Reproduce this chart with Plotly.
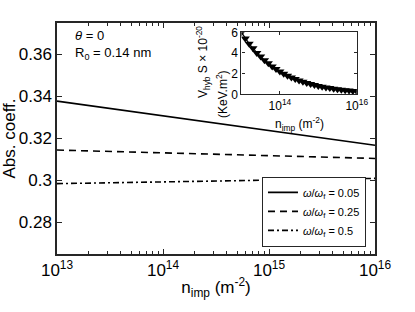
import plotly.graph_objects as go

# Main panel data
n_main = [1e13, 1e14, 1e15, 1e16]
abs_005 = [0.3378, 0.3308, 0.3238, 0.3168]
abs_025 = [0.3145, 0.3132, 0.3118, 0.3105]
abs_05 = [0.2985, 0.2993, 0.3002, 0.3010]

# Inset data
inset_exp = [13.0, 13.1, 13.2, 13.3, 13.4, 13.5, 13.6, 13.7, 13.8, 13.9,
             14.0, 14.1, 14.2, 14.3, 14.4, 14.5, 14.6, 14.7, 14.8, 14.9,
             15.0, 15.1, 15.2, 15.3, 15.4, 15.5, 15.6, 15.7, 15.8, 15.9, 16.0]
inset_v = [6.0, 5.4, 4.9, 4.45, 4.0, 3.65, 3.3, 3.0, 2.7, 2.45,
           2.2, 2.0, 1.8, 1.63, 1.48, 1.34, 1.21, 1.1, 0.99, 0.9,
           0.81, 0.73, 0.66, 0.6, 0.54, 0.49, 0.45, 0.4, 0.37, 0.33, 0.3]
inset_n = [10 ** e for e in inset_exp]

main_xticks = [1e13, 1e14, 1e15, 1e16]
main_xtext = ["10<sup>13</sup>", "10<sup>14</sup>", "10<sup>15</sup>", "10<sup>16</sup>"]
minor_digits = [2, 3, 4, 5, 6, 7, 8, 9]
decades = [1e13, 1e14, 1e15]
main_xminor = [d * m for d in decades for m in minor_digits]
main_yticks = [0.28, 0.30, 0.32, 0.34, 0.36]
main_ytext = ["0.28", "0.3", "0.32", "0.34", "0.36"]
inset_xticks = [1e14, 1e16]
inset_xtext = ["10<sup>14</sup>", "10<sup>16</sup>"]
inset_yticks = [0, 2, 4, 6]

FONT = "Liberation Sans, Arial, sans-serif"
AX = "#262626"

fig = go.Figure()
fig.add_trace(go.Scatter(x=n_main, y=abs_005, mode="lines",
                         line=dict(color="black", width=1.6, dash="solid"),
                         name="<i>ω</i>/<i>ω</i><sub>f</sub> = 0.05"))
fig.add_trace(go.Scatter(x=n_main, y=abs_025, mode="lines",
                         line=dict(color="black", width=1.6, dash="7px,5px"),
                         name="<i>ω</i>/<i>ω</i><sub>f</sub> = 0.25"))
fig.add_trace(go.Scatter(x=n_main, y=abs_05, mode="lines",
                         line=dict(color="black", width=1.6, dash="6px,3px,2px,3px"),
                         name="<i>ω</i>/<i>ω</i><sub>f</sub> = 0.5"))
fig.add_trace(go.Scatter(x=inset_n, y=inset_v, mode="lines+markers",
                         line=dict(color="black", width=1.2),
                         marker=dict(symbol="triangle-down", size=8, color="black"),
                         xaxis="x2", yaxis="y2", showlegend=False))

fig.update_layout(
    width=415, height=312,
    margin=dict(l=57, r=40, t=23, b=58, autoexpand=False),
    paper_bgcolor="white", plot_bgcolor="white",
    font=dict(family=FONT, color="black", size=17),
    xaxis=dict(type="log", range=[13, 16], domain=[0, 1], automargin=False,
               tickvals=main_xticks, ticktext=main_xtext,
               ticks="inside", ticklen=5, tickcolor=AX, tickwidth=1,
               minor=dict(tickvals=main_xminor, ticks="inside", ticklen=3,
                          tickcolor=AX, showgrid=False),
               showline=True, linecolor=AX, linewidth=1.5, mirror="allticks",
               showgrid=False, zeroline=False,
               tickfont=dict(size=17),
               title=dict(text="n<sub>imp</sub> (m<sup>-2</sup>)", font=dict(size=17), standoff=2)),
    yaxis=dict(range=[0.265, 0.375], domain=[0, 1], automargin=False,
               tickvals=main_yticks, ticktext=main_ytext,
               ticks="inside", ticklen=5, tickcolor=AX, tickwidth=1,
               showline=True, linecolor=AX, linewidth=1.5, mirror="allticks",
               showgrid=False, zeroline=False,
               tickfont=dict(size=17),
               title=dict(text="Abs. coeff.", font=dict(size=17), standoff=6)),
    xaxis2=dict(type="log", range=[13, 16], domain=[0.58, 0.9425], anchor="y2",
                automargin=False,
                tickvals=inset_xticks, ticktext=inset_xtext,
                ticks="inside", ticklen=3, tickcolor=AX,
                showline=True, linecolor=AX, linewidth=1.2, mirror="ticks",
                showgrid=False, zeroline=False,
                tickfont=dict(size=12)),
    yaxis2=dict(range=[0, 6], domain=[0.6913, 0.9597], anchor="x2",
                automargin=False,
                tickvals=inset_yticks,
                ticks="inside", ticklen=3, tickcolor=AX,
                showline=True, linecolor=AX, linewidth=1.2, mirror="ticks",
                showgrid=False, zeroline=False,
                tickfont=dict(size=12)),
    legend=dict(x=0.971, y=0.0316, xanchor="right", yanchor="bottom",
                bordercolor=AX, borderwidth=1.2, bgcolor="white",
                font=dict(size=11), tracegroupgap=0, itemwidth=30),
    showlegend=True,
)

fig.add_annotation(x=0.05, y=0.985, xref="paper", yref="paper",
                   xanchor="left", yanchor="top", align="left", showarrow=False,
                   text="<i>θ</i> = 0<br>R<sub>0</sub> = 0.14 nm",
                   font=dict(size=13))
# inset axis titles
fig.add_annotation(x=(203 - 57) / 318, y=(254 - 62) / 231, xref="paper", yref="paper",
                   xanchor="center", yanchor="middle", showarrow=False, textangle=-90,
                   text="V<sub>hyb</sub> S × 10<sup>-20</sup>", font=dict(size=12))
fig.add_annotation(x=(222 - 57) / 318, y=(254 - 94) / 231, xref="paper", yref="paper",
                   xanchor="center", yanchor="middle", showarrow=False, textangle=-90,
                   text="(KeV.m<sup>2</sup>)", font=dict(size=12))
fig.add_annotation(x=(299 - 57) / 318, y=(254 - 124) / 231, xref="paper", yref="paper",
                   xanchor="center", yanchor="middle", showarrow=False,
                   text="n<sub>imp</sub> (m<sup>-2</sup>)", font=dict(size=12))

fig.write_html("out.html", config={"displayModeBar": False},
               post_script="document.body.style.margin='0';")
